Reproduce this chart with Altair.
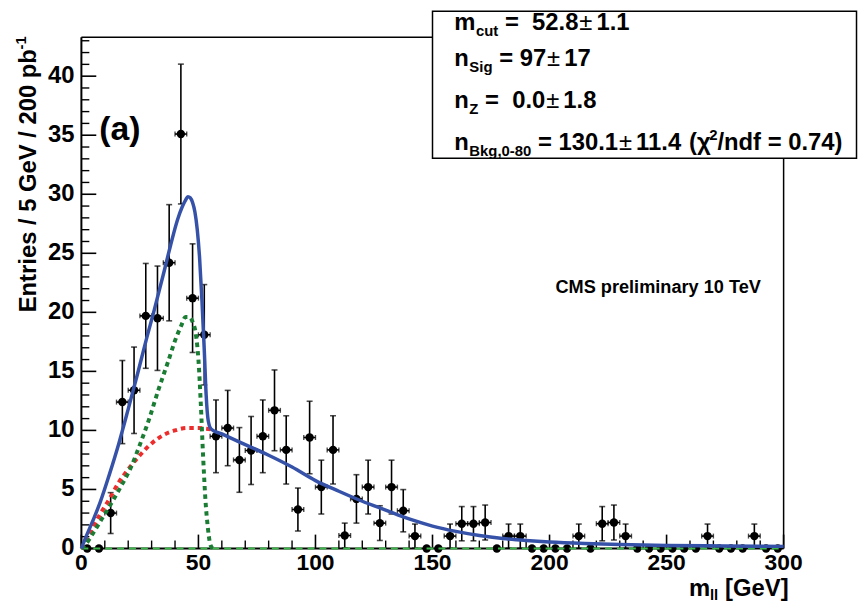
import altair as alt
import pandas as pd

# ---------------- data ----------------
bin_center = [2.5, 7.5, 12.5, 17.5, 22.5, 27.5, 32.5, 37.5, 42.5, 47.5,
              52.5, 57.5, 62.5, 67.5, 72.5, 77.5, 82.5, 87.5, 92.5, 97.5,
              102.5, 107.5, 112.5, 117.5, 122.5, 127.5, 132.5, 137.5, 142.5, 147.5,
              152.5, 157.5, 162.5, 167.5, 172.5, 177.5, 182.5, 187.5, 192.5, 197.5,
              202.5, 207.5, 212.5, 217.5, 222.5, 227.5, 232.5, 237.5, 242.5, 247.5,
              252.5, 257.5, 262.5, 267.5, 272.5, 277.5, 282.5, 287.5, 292.5, 297.5]
entries = [0, 0, 3.0, 12.4, 13.4, 19.7, 19.5, 24.2, 35.1, 21.2,
           18.1, 9.5, 10.2, 7.5, 8.3, 9.5, 11.7, 8.35, 3.3, 9.4,
           5.2, 8.35, 1.1, 4.2, 5.2, 2.15, 5.2, 3.2, 1.05, 0,
           0, 1.05, 2.1, 2.1, 2.2, 0, 1.05, 1.05, 0, 0,
           0, 0, 1.05, 0, 2.1, 2.2, 1.05, 0, 0, 0,
           0, 0, 0, 1.05, 0, 0, 0, 1.05, 0, 0]
entry_err = [0, 0, 1.73, 3.52, 3.66, 4.44, 4.42, 4.92, 5.92, 4.60,
             4.25, 3.08, 3.19, 2.74, 2.88, 3.08, 3.42, 2.89, 1.82, 3.07,
             2.28, 2.89, 1.05, 2.05, 2.28, 1.47, 2.28, 1.79, 1.02, 0,
             0, 1.02, 1.45, 1.45, 1.48, 0, 1.02, 1.02, 0, 0,
             0, 0, 1.02, 0, 1.45, 1.48, 1.02, 0, 0, 0,
             0, 0, 0, 1.02, 0, 0, 0, 1.02, 0, 0]
bin_half_width = 2.5

# total fit (blue)
blue_x = [0, 2, 5, 8, 12, 16, 20, 24, 28, 31, 35, 38, 41, 43, 44.5, 45.5, 46.5,
          47.5, 48.5, 49.5, 50.5, 51.5, 52.5, 53.3, 54.2, 55.5, 60, 70, 80, 90,
          100, 110, 120, 130, 140, 150, 160, 170, 180, 190, 200, 215, 230, 250,
          275, 300]
blue_y = [0, 1.0, 2.4, 3.9, 6.3, 8.9, 11.8, 14.8, 17.9, 20.1, 23.2, 25.6, 27.8,
          28.9, 29.5, 29.8, 29.7, 29.3, 28.5, 27.0, 24.6, 21.0, 16.8, 13.0, 10.8,
          10.1, 9.7, 8.8, 7.9, 6.9, 5.75, 4.85, 4.0, 3.25, 2.5, 1.9, 1.45, 1.1,
          0.85, 0.68, 0.55, 0.42, 0.33, 0.26, 0.21, 0.18]
# background component (red dotted)
red_x = [0, 2, 5, 8, 12, 16, 20, 25, 30, 35, 40, 45, 50, 53, 55.5]
red_y = [0, 0.6, 1.8, 2.9, 4.2, 5.6, 6.7, 7.9, 8.9, 9.6, 10.0, 10.2, 10.2, 10.15, 10.1]
# signal component (green dotted)
green_x = [0, 2, 5, 9, 13, 17, 21, 25, 29, 33, 37, 40, 42.5, 44.5, 46, 47.5, 49,
           50, 51, 52, 53, 54, 55, 56]
green_y = [0, 0.4, 1.3, 2.6, 3.9, 5.3, 6.8, 8.8, 11.0, 13.5, 15.8, 17.6, 18.8,
           19.6, 19.6, 19.2, 18.0, 16.0, 12.3, 7.8, 4.1, 1.8, 0.4, 0]
# Z component (green dashed, n_Z = 0)
z_x = [0, 300]
z_y = [0, 0]

x_label_values = [0, 50, 100, 150, 200, 250, 300]
x_minor_ticks = [10, 20, 30, 40, 60, 70, 80, 90, 110, 120, 130, 140, 160, 170,
                 180, 190, 210, 220, 230, 240, 260, 270, 280, 290]
y_label_values = [0, 5, 10, 15, 20, 25, 30, 35, 40]
y_minor_ticks = [1, 2, 3, 4, 6, 7, 8, 9, 11, 12, 13, 14, 16, 17, 18, 19, 21, 22,
                 23, 24, 26, 27, 28, 29, 31, 32, 33, 34, 36, 37, 38, 39, 41, 42, 43]

# stats box lines: (text, kind) with kind main / sub / sup / pm
stat_lines = [
    [("m", "main"), ("cut", "sub"), (" =  52.8", "main"), ("\u00b1", "pm"), ("1.1", "main")],
    [("n", "main"), ("Sig", "sub"), (" = 97", "main"), ("\u00b1", "pm"), ("17", "main")],
    [("n", "main"), ("Z", "sub"), (" =  0.0", "main"), ("\u00b1", "pm"), ("1.8", "main")],
    [("n", "main"), ("Bkg,0-80", "sub"), (" = 130.1", "main"), ("\u00b1", "pm"),
     ("11.4 (\u03c7", "main"), ("2", "sup"), ("/ndf = 0.74)", "main")],
]
stat_baselines = [28, 64, 106, 149]

# ---------------- styling ----------------
FONT = "Liberation Sans"
W, H = 708, 515.5
OX, OY = 82, 35          # page position of plot origin
BLUE = "#3552a8"
RED = "#ee2c2c"
GREEN = "#1b7d34"
ZGREEN = "#3cb54a"

xs = alt.Scale(domain=[0, 300], nice=False, zero=False)
ys = alt.Scale(domain=[0, 43.3], nice=False, zero=False)

# approximate Arial-Bold advance widths (per em) for layout of the stats text
ADV = {" ": .278, "(": .333, ")": .333, ",": .278, "-": .333, ".": .278, "/": .278,
       "=": .584, "B": .722, "S": .667, "Z": .611, "a": .556, "c": .556, "d": .611,
       "f": .333, "g": .611, "i": .278, "k": .556, "l": .278, "m": .889, "n": .611,
       "t": .333, "u": .611, "\u03c7": .47}
for d in "0123456789":
    ADV[d] = .556


def adv(s, size):
    return sum(ADV.get(ch, .556) for ch in s) * size


pts = pd.DataFrame({"x": bin_center, "y": entries, "e": entry_err})
pts["lo"] = pts["y"] - pts["e"]
pts["hi"] = pts["y"] + pts["e"]
pts["xl"] = pts["x"] - bin_half_width
pts["xh"] = pts["x"] + bin_half_width
nz = pts[pts["e"] > 0]

X = lambda f: alt.X(f, scale=xs, axis=None)
Y = lambda f: alt.Y(f, scale=ys, axis=None)
one = pd.DataFrame({"a": [0]})

layers = []

# frame and axis lines
def prule(x1, x2, y1, y2, w):
    return alt.Chart(one).mark_rule(color="black", strokeWidth=w).encode(
        x=alt.value(x1), x2=alt.value(x2), y=alt.value(y1), y2=alt.value(y2))

layers.append(prule(0, 0, 0, H, 2))
layers.append(prule(0, W, H, H, 2))
layers.append(prule(0, W, 0, 0, 1.5))
layers.append(prule(W, W, 0, H, 1.5))

# inward ticks
layers.append(alt.Chart(pd.DataFrame({"v": y_label_values})).mark_rule(color="black", strokeWidth=1.6).encode(
    y=Y("v:Q"), x=alt.value(0), x2=alt.value(15)))
layers.append(alt.Chart(pd.DataFrame({"v": y_minor_ticks})).mark_rule(color="black", strokeWidth=1.4).encode(
    y=Y("v:Q"), x=alt.value(0), x2=alt.value(8)))
layers.append(alt.Chart(pd.DataFrame({"v": x_label_values})).mark_rule(color="black", strokeWidth=1.6).encode(
    x=X("v:Q"), y=alt.value(H), y2=alt.value(H - 14)))
layers.append(alt.Chart(pd.DataFrame({"v": x_minor_ticks})).mark_rule(color="black", strokeWidth=1.4).encode(
    x=X("v:Q"), y=alt.value(H), y2=alt.value(H - 8)))

# tick labels
layers.append(alt.Chart(pd.DataFrame({"v": y_label_values})).mark_text(
    font=FONT, fontSize=24, fontWeight="bold", color="black", align="right", baseline="middle").encode(
    y=Y("v:Q"), x=alt.value(-7), text="v:Q"))
layers.append(alt.Chart(pd.DataFrame({"v": x_label_values})).mark_text(
    font=FONT, fontSize=23, fontWeight="bold", color="black", align="center", baseline="top").encode(
    x=X("v:Q"), y=alt.value(H + 4), text="v:Q"))

# data points with error bars
base_nz = alt.Chart(nz)
layers.append(base_nz.mark_rule(color="black", strokeWidth=1.6).encode(
    x=X("x:Q"), y=Y("lo:Q"), y2="hi:Q"))
layers.append(base_nz.mark_tick(color="black", orient="horizontal", size=6, thickness=1.6).encode(
    x=X("x:Q"), y=Y("lo:Q")))
layers.append(base_nz.mark_tick(color="black", orient="horizontal", size=6, thickness=1.6).encode(
    x=X("x:Q"), y=Y("hi:Q")))
layers.append(base_nz.mark_rule(color="black", strokeWidth=1.6).encode(
    x=X("xl:Q"), x2="xh:Q", y=Y("y:Q")))
layers.append(base_nz.mark_tick(color="black", orient="vertical", size=5, thickness=1.4).encode(
    x=X("xl:Q"), y=Y("y:Q")))
layers.append(base_nz.mark_tick(color="black", orient="vertical", size=5, thickness=1.4).encode(
    x=X("xh:Q"), y=Y("y:Q")))
layers.append(alt.Chart(pts).mark_circle(color="black", size=72, opacity=1).encode(
    x=X("x:Q"), y=Y("y:Q")))

# fit curves
def curve(xv, yv, color, width, dash=None):
    kw = dict(color=color, strokeWidth=width, interpolate="monotone", clip=False)
    if dash is not None:
        kw["strokeDash"] = dash
        kw["strokeCap"] = "butt"
    return alt.Chart(pd.DataFrame({"x": xv, "y": yv})).mark_line(**kw).encode(
        x=X("x:Q"), y=Y("y:Q"), order="x:Q")

layers.append(curve(z_x, z_y, ZGREEN, 2, [7, 5]))
layers.append(curve(red_x, red_y, RED, 4, [4.5, 4]))
layers.append(curve(green_x, green_y, GREEN, 4, [4.5, 4]))
layers.append(curve(blue_x, blue_y, BLUE, 3.5))

# ---------------- text ----------------
def txt(s, px, py, size, weight="bold", align="left", baseline="alphabetic", angle=0):
    kw = dict(text=s, font=FONT, fontSize=size, fontWeight=weight, color="black",
              align=align, baseline=baseline)
    if angle:
        kw["angle"] = angle
    return alt.Chart(one).mark_text(**kw).encode(
        x=alt.value(px - OX), y=alt.value(py - OY))


def flow_words(s, cx, base, size, weight="bold"):
    """place each word separately (svg collapses spaces); return new x."""
    word = ""
    start = cx
    for ch in s:
        if ch == " ":
            if word:
                layers.append(txt(word, start, base, size, weight))
                word = ""
            cx += adv(" ", size)
            start = cx
        else:
            if not word:
                start = cx
            word += ch
            cx += adv(ch, size)
    if word:
        layers.append(txt(word, start, base, size, weight))
    return cx


# stats box
layers.append(alt.Chart(one).mark_rect(fill="white", stroke="black", strokeWidth=1.5).encode(
    x=alt.value(436 - OX), x2=alt.value(863.5 - OX), y=alt.value(8.8 - OY), y2=alt.value(157 - OY)))

MAIN, SMALL = 24, 15
for segs, base in zip(stat_lines, stat_baselines):
    cx = 458
    for s, kind in segs:
        if kind == "main":
            cx = flow_words(s, cx, base, MAIN)
        elif kind == "pm":
            layers.append(txt(s, cx + 1, base, MAIN, weight="normal"))
            cx += 1 + 0.55 * MAIN + 4
        elif kind == "sub":
            cx = flow_words(s, cx + 0.5, base + 6, SMALL)
        else:  # sup
            cx = flow_words(s, cx + 1, base - 10, SMALL)

layers.append(txt("(a)", 100, 139, 34))
layers.append(txt("CMS preliminary 10 TeV", 560, 293, 18.3))

# x title
layers.append(txt("[GeV]", 795, 598, 24, align="right"))
layers.append(txt("ll", 724, 602, 15, align="right"))
layers.append(txt("m", 716, 598, 24, align="right"))

# y title (rotated)
layers.append(txt("Entries / 5 GeV / 200 pb", 36, 47, 24, align="right", angle=270))
layers.append(txt("-1", 26, 34, 15, align="right", angle=270))

chart = alt.layer(*layers).properties(
    width=W, height=H,
    padding={"left": 74, "top": 27, "right": 75, "bottom": 51.5},
    autosize=alt.AutoSizeParams(type="none"),
    background="white",
).configure_view(strokeWidth=0)

chart.save("out.html", embed_options={"renderer": "svg", "actions": False})
